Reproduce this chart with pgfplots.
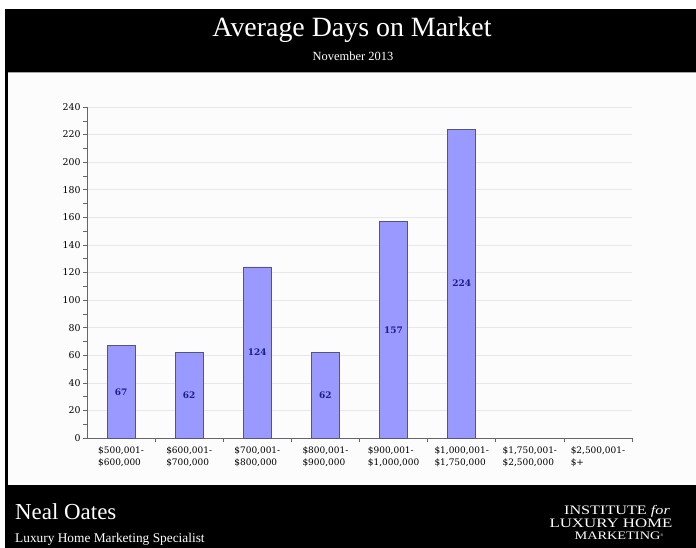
\documentclass[border=0pt]{standalone}
\usepackage{pgfplots}
\usepackage{pgfplotstable}
\pgfplotsset{compat=1.18}
\usepackage{fontspec}
\setmainfont{Liberation Serif}
\newfontfamily\tickfont{DejaVu Serif}
\definecolor{barfill}{HTML}{9999FF}
\definecolor{baredge}{HTML}{55557A}
\definecolor{barlabel}{HTML}{1C1C8C}
\definecolor{contentbg}{HTML}{FBFCFB}
\definecolor{gridc}{HTML}{E8E8E8}
\definecolor{axisc}{HTML}{666666}
\pgfplotstableread{
x v
0 67
1 62
2 124
3 62
4 157
5 224
}\datatable
\begin{document}
\begin{tikzpicture}[x=1bp,y=1bp]
\useasboundingbox (0,0) rectangle (696,-548);
\fill[white] (0,0) rectangle (696,-548);
\fill[black] (5,-9) rectangle (696,-548);
\fill[contentbg] (8,-72) rectangle (696,-485);
\draw[gray!70, line width=0.8bp] (8,-72.4) -- (696,-72.4);
\node[white, font=\fontsize{28}{32}\selectfont, anchor=base] at (352,-37) {Average Days on Market};
\node[white, font=\fontsize{12.5}{14}\selectfont, anchor=base] at (353,-61) {November 2013};
\node[white, font=\fontsize{23}{26}\selectfont, anchor=base west, inner sep=0] at (15,-519) {Neal Oates};
\node[white, font=\fontsize{13.4}{15}\selectfont, anchor=base west, inner sep=0] at (15,-542) {Luxury Home Marketing Specialist};
\node[white, font=\fontsize{13}{13}\selectfont, anchor=base, inner sep=0] at (617,-514) {\scalebox{1.25}[1]{INSTITUTE \textit{for}}};
\node[white, font=\fontsize{13}{13}\selectfont, anchor=base, inner sep=0] at (611,-527) {\scalebox{1.3}[1]{LUXURY HOME}};
\node[white, font=\fontsize{11.5}{12}\selectfont, anchor=base, inner sep=0] at (619,-539) {\scalebox{1.25}[1]{MARKETING}\raisebox{0.5ex}{\fontsize{4}{4}\selectfont ®}};
\begin{axis}[
  at={(87bp,-438bp)}, anchor=south west,
  scale only axis, width=545bp, height=331bp,
  xmin=-0.5, xmax=7.5, ymin=0, ymax=240,
  axis x line=bottom, axis y line=left,
  axis line style={axisc, line width=0.8bp, -},
  xtick={0,...,7},
  xticklabels={{\$500,001-\\\$600,000},{\$600,001-\\\$700,000},{\$700,001-\\\$800,000},{\$800,001-\\\$900,000},{\$900,001-\\\$1,000,000},{\$1,000,001-\\\$1,750,000},{\$1,750,001-\\\$2,500,000},{\$2,500,001-\\\$+}},
  xticklabel style={align=left, font=\tickfont\fontsize{9}{12}\selectfont, yshift=-1bp},
  major x tick style={draw=none},
  minor xtick={0.5,1.5,...,7.5},
  minor x tick style={axisc, line width=0.6bp},
  minor tick length=4bp,
  ytick={0,20,...,240},
  minor ytick={10,30,...,230},
  major y tick style={axisc, line width=0.6bp},
  minor y tick style={axisc, line width=0.5bp},
  major tick length=4bp,
  yticklabel style={font=\tickfont\fontsize{9.4}{10}\selectfont, xshift=1bp},
  /pgf/number format/assume math mode=true,
  ymajorgrids, major grid style={gridc, line width=0.6bp},
  tick align=outside,
  clip=false,
]
\addplot[ybar, bar width=28bp, bar shift=0pt, fill=barfill, draw=baredge, line width=0.7bp] table[x=x, y=v] {\datatable};
\addplot[draw=none, mark=none, nodes near coords, point meta=explicit,
  nodes near coords style={anchor=center, font=\tickfont\bfseries\fontsize{9}{10}\selectfont, text=barlabel}]
  table[x=x, y expr=\thisrow{v}/2, meta=v] {\datatable};
\end{axis}
\end{tikzpicture}
\end{document}
